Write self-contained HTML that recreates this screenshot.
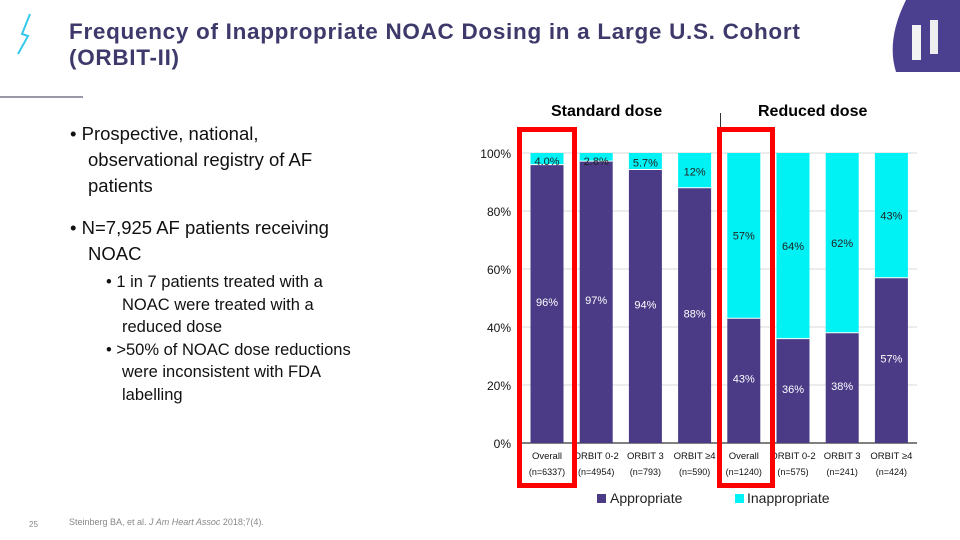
<!DOCTYPE html>
<html><head><meta charset="utf-8"><style>
body{margin:0;width:960px;height:540px;overflow:hidden;background:#fff;font-family:"Liberation Sans",sans-serif;position:relative}
.a{position:absolute}
</style></head><body>
<svg class="a" style="left:10px;top:12px" width="30" height="45"><path d="M20 2 L12 22 L18 24 L8 42" stroke="#35c9ea" stroke-width="2" fill="none"/></svg>
<div class="a" style="left:69px;top:19px;font-size:22.5px;line-height:26px;color:#3d3a6b;font-weight:bold;letter-spacing:0.7px">Frequency of Inappropriate NOAC Dosing in a Large U.S. Cohort<br>(ORBIT-II)</div>
<svg class="a" style="left:876px;top:0" width="84" height="72"><path d="M84 72 L84 0 L30 0 Q10 40 20 72Z" fill="#4b3f8f"/><rect x="54" y="20" width="8" height="34" fill="#eee"/><rect x="36" y="25" width="9" height="35" fill="#f3f3f3"/></svg>
<div class="a" style="left:0;top:96px;width:83px;height:2px;background:#9a97a8"></div>
<div class="a" style="left:70px;top:121px;width:290px;font-size:18.5px;line-height:26px;color:#111">
<div style="padding-left:18px;text-indent:-18px;width:260px">• Prospective, national, observational registry of AF patients</div>
<div style="padding-left:18px;text-indent:-18px;margin-top:16px">• N=7,925 AF patients receiving NOAC</div>
<div style="font-size:16.5px;line-height:22.5px;margin-top:4px;padding-left:52px;text-indent:-16px;width:218px">• 1 in 7 patients treated with a NOAC were treated with a reduced dose</div>
<div style="font-size:16.5px;line-height:22.5px;padding-left:52px;text-indent:-16px;width:245px">• &gt;50% of NOAC dose reductions were inconsistent with FDA labelling</div>
</div>
<div class="a" style="left:29px;top:520px;font-size:8px;color:#888">25</div>
<div class="a" style="left:69px;top:517px;font-size:9px;color:#888">Steinberg BA, et al. <i>J Am Heart Assoc</i> 2018;7(4).</div>
<svg class="a" id="chart" style="left:0;top:0" width="960" height="540"></svg>
<script>
const categories=["Overall","ORBIT 0-2","ORBIT 3","ORBIT ≥4","Overall","ORBIT 0-2","ORBIT 3","ORBIT ≥4"];
const nLabels=["(n=6337)","(n=4954)","(n=793)","(n=590)","(n=1240)","(n=575)","(n=241)","(n=424)"];
const appropriate=[96,97.2,94.3,88,43,36,38,57];
const inappropriate=[4,2.8,5.7,12,57,64,62,43];
const appLabels=["96%","97%","94%","88%","43%","36%","38%","57%"];
const inappLabels=["4.0%","2.8%","5.7%","12%","57%","64%","62%","43%"];
const yTicks=[0,20,40,60,80,100];
const NS="http://www.w3.org/2000/svg";
const svg=document.getElementById('chart');
const y0=443,yTop=153,xL=518,step=49.2,bw=33;
const y=v=>y0-(v/100)*(y0-yTop);
const xc=i=>xL+29+i*step;
function mk(t,a){const e=document.createElementNS(NS,t);for(const k in a)e.setAttribute(k,a[k]);svg.appendChild(e);return e;}
yTicks.forEach(t=>{
 const g=mk('line',{x1:xL,x2:917,y1:y(t),y2:y(t),stroke:t?'#d8d8d8':'#000','stroke-width':1});
 
 
 const l=mk('text',{x:511,y:y(t)+5,'text-anchor':'end','font-size':12,fill:'#111','font-family':'Liberation Sans'});
 l.textContent=t+'%';
 
 
});
categories.forEach((c,i)=>{
 const x=xc(i)-bw/2,tot=appropriate[i]+inappropriate[i];
 const b1=mk('rect',{x:x,y:y(appropriate[i]),width:bw,height:y(0)-y(appropriate[i]),fill:'#4b3b86'});
 
 
 const b2=mk('rect',{x:x,y:y(tot),width:bw,height:y(appropriate[i])-y(tot),fill:'#00f2f5'});
 
 
 mk('line',{x1:x,x2:x+bw,y1:y(appropriate[i]),y2:y(appropriate[i]),stroke:'#fff','stroke-width':1});
 const big=inappropriate[i]>20;
 const ly=big?(y(tot)+y(appropriate[i]))/2+4:y(tot)+Math.max(12,(y(appropriate[i])-y(tot))/2+5);
 const t1=mk('text',{x:xc(i),y:ly,'text-anchor':'middle','font-size':11,fill:'#222','font-family':'Liberation Sans'});
 t1.textContent=inappLabels[i];
 
 
 const ay=(y(appropriate[i])+y(0))/2+2;
 const t2=mk('text',{x:xc(i),y:ay,'text-anchor':'middle','font-size':11,fill:'#fff','font-family':'Liberation Sans'});
 t2.textContent=appLabels[i];
 
 
 const c1=mk('text',{x:xc(i),y:459,'text-anchor':'middle','font-size':9.5,fill:'#111','font-family':'Liberation Sans'});
 c1.textContent=c;
 
 
 const c2=mk('text',{x:xc(i),y:475,'text-anchor':'middle','font-size':9,fill:'#111','font-family':'Liberation Sans'});
 c2.textContent=nLabels[i];
 
 
});
</script>
<div class="a" style="left:551px;top:103px;font-size:16px;font-weight:bold">Standard dose</div>
<div class="a" style="left:758px;top:103px;font-size:16px;font-weight:bold">Reduced dose</div>
<div class="a" style="left:720px;top:113px;width:1px;height:14px;background:#333"></div>
<div class="a" style="left:517px;top:127px;width:50px;height:351px;border:5px solid #f00"></div>
<div class="a" style="left:717px;top:127px;width:48px;height:351px;border:5px solid #f00"></div>
<div class="a" style="left:597px;top:490px;font-size:14px;color:#222"><span style="display:inline-block;width:9px;height:9px;background:#4b3b86;margin-right:4px"></span>Appropriate</div>
<div class="a" style="left:735px;top:490px;font-size:14px;color:#222"><span style="display:inline-block;width:9px;height:9px;background:#00f2f5;margin-right:3px"></span>Inappropriate</div>
</body></html>
